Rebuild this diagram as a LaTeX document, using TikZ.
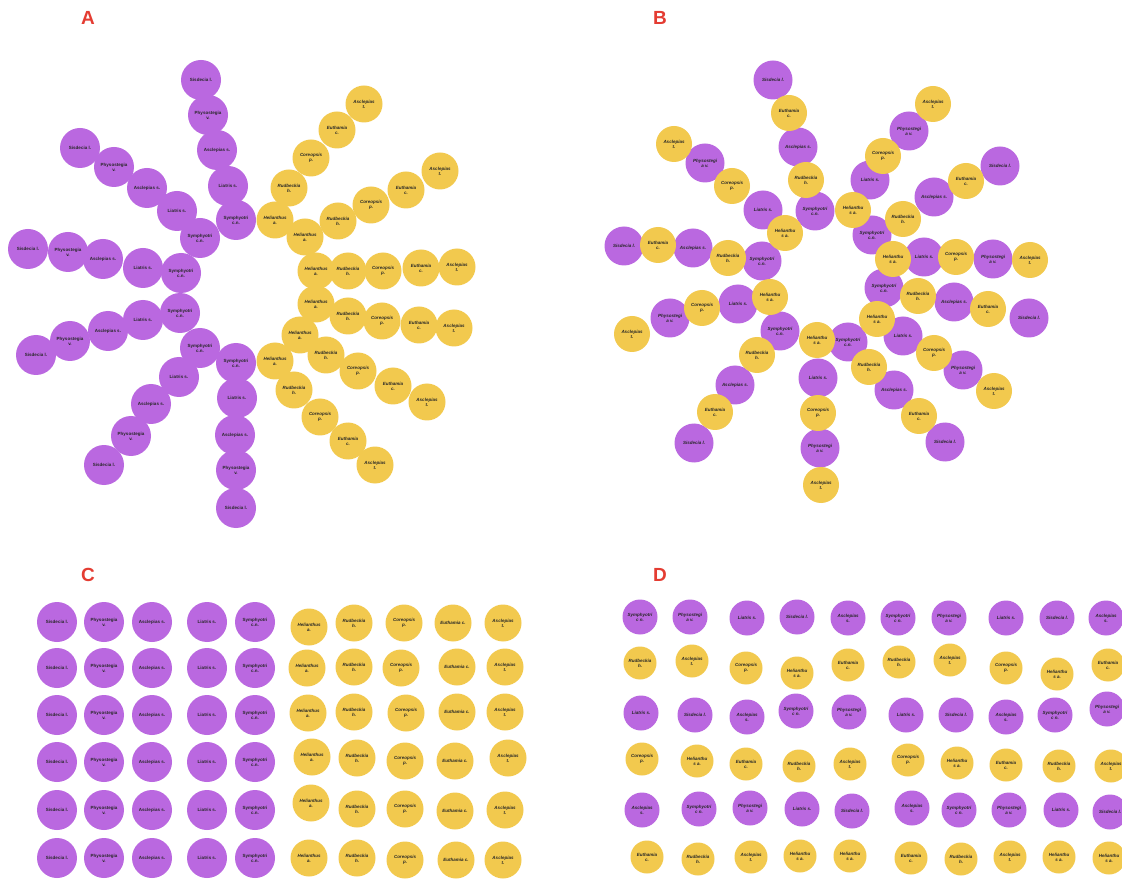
\documentclass[tikz,border=0pt]{standalone}
\usepackage{fontspec}
\setmainfont{Liberation Sans}
\definecolor{purp}{RGB}{186,104,224}
\definecolor{yell}{RGB}{242,201,78}
\definecolor{lab}{RGB}{228,60,50}
\newcommand{\bubs}[3]{\foreach \qx/\qy/\qt [count=\k] in {#3}{\node[#2] (#1-\k) at (\qx,\qy) {\qt};}}
\begin{document}
\begin{tikzpicture}[x=1pt,y=-1pt,
  bub/.style={circle, inner sep=0pt, align=center, text=black!85, font=\fontsize{4.5}{5}\selectfont\bfseries},
  bubi/.style={bub, font=\fontsize{4.5}{5}\selectfont\bfseries\itshape},
  pA/.style={bub, fill=purp, minimum size=40pt},
  yA/.style={bubi, fill=yell, minimum size=37pt},
  pB/.style={bubi, fill=purp, minimum size=39pt},
  yB/.style={bubi, fill=yell, minimum size=36pt},
  pD/.style={bubi, fill=purp, minimum size=35pt},
  yD/.style={bubi, fill=yell, minimum size=33pt},
  panel/.style={font=\fontsize{19}{19}\selectfont\bfseries, text=lab}
]
\useasboundingbox (0,0) rectangle (1122,882);
\fill[white] (0,0) rectangle (1122,882);

\node[panel] (labA) at (88,18) {A};
\node[panel] (labB) at (660,18) {B};
\node[panel] (labC) at (88,575) {C};
\node[panel] (labD) at (660,575) {D};

% ---------- Panel A ----------
\bubs{AP}{pA}{201/80/{Sisdecia l.}, 208/115/{Physostegia\\v.}, 217/150/{Asclepias s.}, 228/186/{Liatris s.}, 236/220/{Symphyotri\\c.n.},
80/148/{Sisdecia l.}, 114/167/{Physostegia\\v.}, 147/188/{Asclepias s.}, 177/211/{Liatris s.}, 200/238/{Symphyotri\\c.n.},
28/249/{Sisdecia l.}, 68/252/{Physostegia\\v.}, 103/259/{Asclepias s.}, 143/268/{Liatris s.}, 181/273/{Symphyotri\\c.n.},
36/355/{Sisdecia l.}, 70/341/{Physostegia\\v.}, 108/331/{Asclepias s.}, 143/320/{Liatris s.}, 180/313/{Symphyotri\\c.n.},
104/465/{Sisdecia l.}, 131/436/{Physostegia\\v.}, 151/404/{Asclepias s.}, 179/377/{Liatris s.}, 200/348/{Symphyotri\\c.n.},
236/508/{Sisdecia l.}, 236/470/{Physostegia\\v.}, 235/435/{Asclepias s.}, 237/398/{Liatris s.}, 236/363/{Symphyotri\\c.n.}}

\bubs{AY}{yA}{364/104/{Asclepias\\t.}, 337/130/{Euthamia\\c.}, 311/158/{Coreopsis\\p.}, 289/188/{Rudbeckia\\h.}, 275/220/{Helianthus\\a.},
440/171/{Asclepias\\t.}, 406/190/{Euthamia\\c.}, 371/205/{Coreopsis\\p.}, 338/221/{Rudbeckia\\h.}, 305/237/{Helianthus\\a.},
457/267/{Asclepias\\t.}, 421/268/{Euthamia\\c.}, 383/271/{Coreopsis\\p.}, 348/271/{Rudbeckia\\h.}, 316/271/{Helianthus\\a.},
454/328/{Asclepias\\t.}, 419/325/{Euthamia\\c.}, 382/321/{Coreopsis\\p.}, 348/316/{Rudbeckia\\h.}, 316/304/{Helianthus\\a.},
427/402/{Asclepias\\t.}, 393/386/{Euthamia\\c.}, 358/371/{Coreopsis\\p.}, 326/355/{Rudbeckia\\h.}, 300/335/{Helianthus\\a.},
375/465/{Asclepias\\t.}, 348/441/{Euthamia\\c.}, 320/417/{Coreopsis\\p.}, 294/390/{Rudbeckia\\h.}, 275/361/{Helianthus\\a.}}

% ---------- Panel B ----------
\bubs{BP}{pB}{773/80/{Sisdecia l.}, 798/147/{Asclepias s.}, 815/211/{Symphyotri\\c.n.},
705/163/{Physostegi\\a v.}, 763/210/{Liatris s.},
624/246/{Sisdecia l.}, 693/248/{Asclepias s.}, 762/261/{Symphyotri\\c.n.},
670/318/{Physostegi\\a v.}, 738/304/{Liatris s.},
694/443/{Sisdecia l.}, 735/385/{Asclepias s.}, 780/331/{Symphyotri\\c.n.},
820/448/{Physostegi\\a v.}, 818/378/{Liatris s.},
945/442/{Sisdecia l.}, 894/390/{Asclepias s.}, 848/342/{Symphyotri\\c.n.},
963/370/{Physostegi\\a v.}, 903/336/{Liatris s.},
1029/318/{Sisdecia l.}, 954/302/{Asclepias s.}, 884/288/{Symphyotri\\c.n.},
993/259/{Physostegi\\a v.}, 924/257/{Liatris s.},
1000/166/{Sisdecia l.}, 934/197/{Asclepias s.}, 872/235/{Symphyotri\\c.n.},
909/131/{Physostegi\\a v.}, 870/180/{Liatris s.}}

\bubs{BY}{yB}{789/113/{Euthamia\\c.}, 806/180/{Rudbeckia\\h.},
674/144/{Asclepias\\t.}, 732/186/{Coreopsis\\p.}, 785/233/{Helianthu\\s a.},
658/245/{Euthamia\\c.}, 728/258/{Rudbeckia\\h.},
632/334/{Asclepias\\t.}, 702/308/{Coreopsis\\p.}, 770/297/{Helianthu\\s a.},
715/412/{Euthamia\\c.}, 757/355/{Rudbeckia\\h.},
821/485/{Asclepias\\t.}, 818/413/{Coreopsis\\p.}, 817/340/{Helianthu\\s a.},
919/416/{Euthamia\\c.}, 869/367/{Rudbeckia\\h.},
994/391/{Asclepias\\t.}, 934/353/{Coreopsis\\p.}, 877/319/{Helianthu\\s a.},
988/309/{Euthamia\\c.}, 918/296/{Rudbeckia\\h.},
1030/260/{Asclepias\\t.}, 956/257/{Coreopsis\\p.}, 893/259/{Helianthu\\s a.},
966/181/{Euthamia\\c.}, 903/219/{Rudbeckia\\h.},
933/104/{Asclepias\\t.}, 883/156/{Coreopsis\\p.}, 853/210/{Helianthu\\s a.}}

% ---------- Panel C ----------
\foreach \ry [count=\r] in {622,668,715,762,810,858}{
  \foreach \qx/\qt [count=\c] in {57/{Sisdecia l.}, 104/{Physostegia\\v.}, 152/{Asclepias s.}, 207/{Liatris s.}, 255/{Symphyotri\\c.n.}}{
    \node[pA] (CP-\r-\c) at (\qx,\ry) {\qt};
  }
}
\bubs{CY}{yA}{309/627/{Helianthus\\a.}, 354/623/{Rudbeckia\\h.}, 404/623/{Coreopsis\\p.}, 453/623/{Euthamia c.}, 503/623/{Asclepias\\t.},
307/668/{Helianthus\\a.}, 354/667/{Rudbeckia\\h.}, 401/668/{Coreopsis\\p.}, 457/667/{Euthamia c.}, 505/667/{Asclepias\\t.},
308/713/{Helianthus\\a.}, 354/712/{Rudbeckia\\h.}, 406/713/{Coreopsis\\p.}, 457/712/{Euthamia c.}, 505/712/{Asclepias\\t.},
312/757/{Helianthus\\a.}, 357/758/{Rudbeckia\\h.}, 405/761/{Coreopsis\\p.}, 455/761/{Euthamia c.}, 508/758/{Asclepias\\t.},
311/803/{Helianthus\\a.}, 357/809/{Rudbeckia\\h.}, 405/809/{Coreopsis\\p.}, 455/811/{Euthamia c.}, 505/810/{Asclepias\\t.},
309/858/{Helianthus\\a.}, 357/858/{Rudbeckia\\h.}, 405/860/{Coreopsis\\p.}, 456/860/{Euthamia c.}, 503/860/{Asclepias\\t.}}

% ---------- Panel D ----------
\bubs{DP}{pD}{640/617/{Symphyotri\\c n.}, 690/617/{Physostegi\\a v.}, 747/618/{Liatris s.}, 797/617/{Sisdecia l.}, 848/618/{Asclepias\\s.},
898/618/{Symphyotri\\c n.}, 949/618/{Physostegi\\a v.}, 1006/618/{Liatris s.}, 1057/618/{Sisdecia l.}, 1106/618/{Asclepias\\s.},
641/713/{Liatris s.}, 695/715/{Sisdecia l.}, 747/717/{Asclepias\\s.}, 796/711/{Symphyotri\\c n.}, 849/712/{Physostegi\\a v.},
906/715/{Liatris s.}, 956/715/{Sisdecia l.}, 1006/717/{Asclepias\\s.}, 1055/715/{Symphyotri\\c n.}, 1107/709/{Physostegi\\a v.},
642/810/{Asclepias\\s.}, 699/809/{Symphyotri\\c n.}, 750/808/{Physostegi\\a v.}, 802/809/{Liatris s.}, 852/811/{Sisdecia l.},
912/808/{Asclepias\\s.}, 959/810/{Symphyotri\\c n.}, 1009/810/{Physostegi\\a v.}, 1061/810/{Liatris s.}, 1110/812/{Sisdecia l.}}

\bubs{DY}{yD}{640/663/{Rudbeckia\\h.}, 692/661/{Asclepias\\t.}, 746/668/{Coreopsis\\p.}, 797/673/{Helianthu\\s a.}, 848/665/{Euthamia\\c.},
899/662/{Rudbeckia\\h.}, 950/660/{Asclepias\\t.}, 1006/668/{Coreopsis\\p.}, 1057/674/{Helianthu\\s a.}, 1108/665/{Euthamia\\c.},
642/759/{Coreopsis\\p.}, 697/761/{Helianthu\\s a.}, 746/764/{Euthamia\\c.}, 799/766/{Rudbeckia\\h.}, 850/764/{Asclepias\\t.},
908/760/{Coreopsis\\p.}, 957/763/{Helianthu\\s a.}, 1006/765/{Euthamia\\c.}, 1059/766/{Rudbeckia\\h.}, 1111/766/{Asclepias\\t.},
647/857/{Euthamia\\c.}, 698/859/{Rudbeckia\\h.}, 751/857/{Asclepias\\t.}, 800/856/{Helianthu\\s a.}, 850/856/{Helianthu\\s a.},
911/858/{Euthamia\\c.}, 961/859/{Rudbeckia\\h.}, 1010/857/{Asclepias\\t.}, 1059/857/{Helianthu\\s a.}, 1109/858/{Helianthu\\s a.}}
\end{tikzpicture}
\end{document}
